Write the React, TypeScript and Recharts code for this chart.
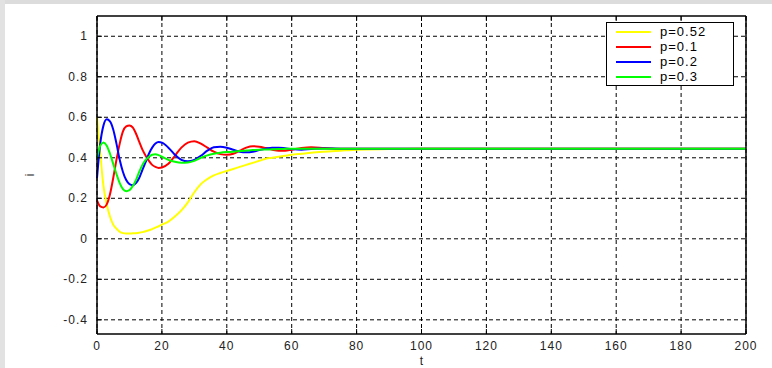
import {
  LineChart,
  Line,
  XAxis,
  YAxis,
  CartesianGrid,
} from "recharts";

const tValues = [
  0, 1, 2, 3, 4, 5, 6, 7, 8, 9, 10, 11, 12, 13, 14, 15, 16, 17, 18, 19, 20,
  22, 24, 26, 28, 30, 32, 34, 36, 38, 40, 42, 44, 46, 48, 50, 52, 54, 56, 58,
  60, 63, 66, 70, 75, 80, 90, 100, 120, 140, 160, 180, 200,
];

const p052 = [
  0.6, 0.42, 0.26, 0.17, 0.11, 0.07, 0.05, 0.035, 0.028, 0.026, 0.026, 0.027,
  0.028, 0.03, 0.033, 0.037, 0.042, 0.048, 0.055, 0.062, 0.07, 0.085, 0.11,
  0.14, 0.18, 0.23, 0.27, 0.295, 0.313, 0.325, 0.335, 0.345, 0.355, 0.365,
  0.375, 0.385, 0.395, 0.4, 0.405, 0.41, 0.415, 0.42, 0.425, 0.43, 0.435,
  0.44, 0.443, 0.445, 0.445, 0.445, 0.445, 0.445, 0.445,
];

const p01 = [
  0.19, 0.16, 0.155, 0.17, 0.22, 0.3, 0.39, 0.47, 0.53, 0.555, 0.56, 0.55,
  0.52, 0.48, 0.44, 0.41, 0.385, 0.365, 0.355, 0.35, 0.352, 0.37, 0.41, 0.45,
  0.475, 0.482, 0.47, 0.45, 0.43, 0.418, 0.415, 0.42, 0.435, 0.45, 0.457,
  0.455, 0.448, 0.44, 0.435, 0.435, 0.44, 0.448, 0.452, 0.448, 0.444, 0.445,
  0.445, 0.445, 0.445, 0.445, 0.445, 0.445, 0.445,
];

const p02 = [
  0.3, 0.47, 0.56, 0.59, 0.58, 0.54, 0.47, 0.39, 0.33, 0.29, 0.27, 0.265,
  0.275, 0.3, 0.34, 0.38, 0.42, 0.45, 0.47, 0.478, 0.475, 0.45, 0.415, 0.39,
  0.383, 0.39, 0.41, 0.435, 0.452, 0.455, 0.45, 0.44, 0.43, 0.427, 0.43,
  0.438, 0.445, 0.45, 0.45, 0.447, 0.443, 0.44, 0.443, 0.446, 0.445, 0.445,
  0.445, 0.445, 0.445, 0.445, 0.445, 0.445, 0.445,
];

const p03 = [
  0.4, 0.46, 0.475, 0.46, 0.42, 0.37, 0.32, 0.275, 0.245, 0.235, 0.24, 0.26,
  0.29, 0.33, 0.365, 0.39, 0.405, 0.415, 0.418, 0.413, 0.405, 0.39, 0.38,
  0.375, 0.377, 0.385, 0.4, 0.412, 0.42, 0.425, 0.428, 0.43, 0.433, 0.436,
  0.438, 0.44, 0.441, 0.442, 0.443, 0.444, 0.445, 0.445, 0.445, 0.445, 0.445,
  0.445, 0.445, 0.445, 0.445, 0.445, 0.445, 0.445, 0.445,
];

const xTicks = [0, 20, 40, 60, 80, 100, 120, 140, 160, 180, 200];
const yTicks = [-0.4, -0.2, 0, 0.2, 0.4, 0.6, 0.8, 1];

const series = [
  { key: "a", name: "p=0.52", color: "#ffff00" },
  { key: "b", name: "p=0.1", color: "#ff0000" },
  { key: "c", name: "p=0.2", color: "#0000ff" },
  { key: "d", name: "p=0.3", color: "#00ff00" },
];

const data = tValues.map((t, i) => ({
  t,
  a: p052[i],
  b: p01[i],
  c: p02[i],
  d: p03[i],
}));

const font = "'Liberation Sans', Arial, sans-serif";

const LeftTick = ({ x, y, payload }: any) => (
  <g>
    <line x1={x + 9} x2={x + 14} y1={y} y2={y} stroke="#000" />
    <text x={x} y={y} dy={4} textAnchor="end" fontSize={12} fill="#222" fontFamily={font} letterSpacing={1}>
      {payload.value}
    </text>
  </g>
);

const BottomTick = ({ x, y, payload }: any) => (
  <g>
    <line x1={x} x2={x} y1={y - 6} y2={y - 11} stroke="#000" />
    <text x={x} y={y} dy={10} textAnchor="middle" fontSize={12} fill="#222" fontFamily={font} letterSpacing={1}>
      {payload.value}
    </text>
  </g>
);

const RightTick = ({ x, y }: any) => (
  <line x1={x - 5} x2={x} y1={y} y2={y} stroke="#000" />
);

const TopTick = ({ x, y }: any) => (
  <line x1={x} x2={x} y1={y} y2={y + 5} stroke="#000" />
);

const LegendBox = () => (
  <div
    style={{
      position: "absolute",
      left: 606,
      top: 22,
      width: 128,
      height: 64,
      background: "#fff",
      border: "1px solid #000",
      fontFamily: font,
      fontSize: 13,
      lineHeight: "15px",
      color: "#000",
      paddingTop: 1,
      boxSizing: "border-box",
    }}
  >
    {series.map((s) => (
      <div key={s.key} style={{ display: "flex", alignItems: "center", height: 15 }}>
        <div style={{ width: 35, height: 2, background: s.color, marginLeft: 9, marginRight: 9 }} />
        <span style={{ letterSpacing: 1 }}>{s.name}</span>
      </div>
    ))}
  </div>
);

export default function App() {
  return (
    <div style={{ position: "absolute", left: 0, top: 0, width: 772, height: 368, background: "#fff" }}>
      <div style={{ position: "absolute", left: 0, top: 0, width: 772, height: 4, background: "#dcdcdc" }} />
      <div style={{ position: "absolute", left: 0, top: 0, width: 5, height: 368, background: "#e2e2e2" }} />
      <LineChart
        width={772}
        height={368}
        data={data}
        margin={{ top: 15, right: 25, left: 37, bottom: 4 }}
      >
        <CartesianGrid stroke="#000" strokeDasharray="4 3" horizontalValues={yTicks} verticalValues={xTicks} />
        <XAxis
          dataKey="t"
          type="number"
          domain={[0, 200]}
          ticks={xTicks}
          height={30}
          tickSize={0}
          tickMargin={6}
          tick={<BottomTick />}
          axisLine={{ stroke: "#000", strokeWidth: 1.5 }}
          label={{
            content: ({ viewBox }: any) => (
              <text
                x={viewBox.x + viewBox.width / 2}
                y={viewBox.y + 31}
                textAnchor="middle"
                fontSize={12}
                fill="#222"
                fontFamily={font}
              >
                t
              </text>
            ),
          }}
        />
        <XAxis
          xAxisId="top"
          dataKey="t"
          type="number"
          domain={[0, 200]}
          ticks={xTicks}
          orientation="top"
          height={1}
          tickSize={0}
          tickMargin={0}
          tick={<TopTick />}
          axisLine={{ stroke: "#000", strokeWidth: 1.5 }}
        />
        <YAxis
          type="number"
          domain={[-0.47, 1.1]}
          ticks={yTicks}
          width={60}
          tickSize={0}
          tickMargin={9}
          tick={<LeftTick />}
          axisLine={{ stroke: "#000", strokeWidth: 1.5 }}
          label={{
            content: ({ viewBox }: any) => (
              <text
                x={viewBox.x - 3}
                y={viewBox.y + viewBox.height / 2}
                transform={`rotate(-90 ${viewBox.x - 3} ${viewBox.y + viewBox.height / 2})`}
                textAnchor="middle"
                fontSize={12}
                fill="#222"
                fontFamily={font}
              >
                i
              </text>
            ),
          }}
        />
        <YAxis
          yAxisId="right"
          type="number"
          domain={[-0.47, 1.1]}
          ticks={yTicks}
          orientation="right"
          width={1}
          tickSize={0}
          tickMargin={0}
          tick={<RightTick />}
          axisLine={{ stroke: "#000", strokeWidth: 1.5 }}
        />
        {series.map((s) => (
          <Line
            key={s.key}
            type="monotone"
            dataKey={s.key}
            name={s.name}
            stroke={s.color}
            strokeWidth={2}
            dot={false}
            isAnimationActive={false}
          />
        ))}
      </LineChart>
      <LegendBox />
    </div>
  );
}
